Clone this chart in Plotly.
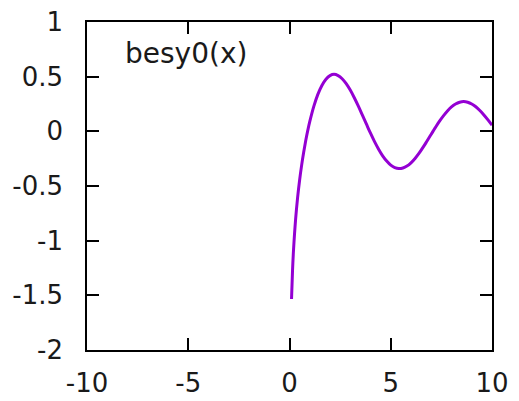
import plotly.graph_objects as go

x_vals = [0.10, 0.15, 0.2, 0.3, 0.4, 0.5, 0.6, 0.7, 0.8, 0.9, 1.0, 1.2, 1.4, 1.6, 1.8,
          2.0, 2.2, 2.4, 2.6, 2.8, 3.0, 3.2, 3.4, 3.6, 3.8, 4.0, 4.2, 4.4, 4.6, 4.8,
          5.0, 5.2, 5.4, 5.6, 5.8, 6.0, 6.2, 6.4, 6.6, 6.8, 7.0, 7.2, 7.4, 7.6, 7.8,
          8.0, 8.2, 8.4, 8.6, 8.8, 9.0, 9.2, 9.4, 9.6, 9.8, 10.0]
y_vals = [-1.534, -1.271, -1.081, -0.807, -0.606, -0.445, -0.309, -0.191, -0.087, 0.006,
          0.088, 0.228, 0.338, 0.420, 0.477, 0.510, 0.521, 0.510, 0.481, 0.436, 0.377,
          0.307, 0.230, 0.148, 0.065, -0.017, -0.094, -0.163, -0.224, -0.272, -0.309,
          -0.331, -0.340, -0.335, -0.318, -0.288, -0.248, -0.200, -0.145, -0.086, -0.026,
          0.034, 0.091, 0.142, 0.187, 0.224, 0.250, 0.266, 0.272, 0.266, 0.250, 0.225,
          0.191, 0.150, 0.105, 0.056]

x_ticks = [-10, -5, 0, 5, 10]
x_tick_text = ["-10", "-5", "0", "5", "10"]
y_ticks = [-2, -1.5, -1, -0.5, 0, 0.5, 1]
y_tick_text = ["-2", "-1.5", "-1", "-0.5", "0", "0.5", "1"]
series_name = "besy0(x)"

fig = go.Figure()
fig.add_trace(go.Scatter(x=x_vals, y=y_vals, mode="lines", name=series_name,
                         line=dict(color="#9400D3", width=3, shape="spline"),
                         showlegend=False))

fig.add_annotation(text=series_name, xref="paper", yref="paper", x=0.244, y=0.905,
                   showarrow=False, xanchor="center", yanchor="middle",
                   font=dict(family="DejaVu Sans", size=28, color="#1a1a1a"))

axis_common = dict(showline=True, linecolor="black", linewidth=1.5, mirror="allticks",
                   ticks="inside", ticklen=12, tickwidth=1.5, tickcolor="black",
                   showgrid=False, zeroline=False, automargin=False,
                   tickfont=dict(family="DejaVu Sans", size=26, color="#1a1a1a"))

fig.update_layout(
    width=519, height=401,
    margin=dict(l=87, r=27, t=22, b=51),
    plot_bgcolor="white", paper_bgcolor="white",
    xaxis=dict(range=[-10, 10], tickvals=x_ticks, ticktext=x_tick_text,
               ticklabelstandoff=9, **axis_common),
    yaxis=dict(range=[-2, 1], tickvals=y_ticks, ticktext=y_tick_text,
               ticklabelstandoff=17, **axis_common),
)

fig.write_html("out.html", config={"displayModeBar": False},
               post_script="document.body.style.margin='0';document.body.style.overflow='hidden';")
